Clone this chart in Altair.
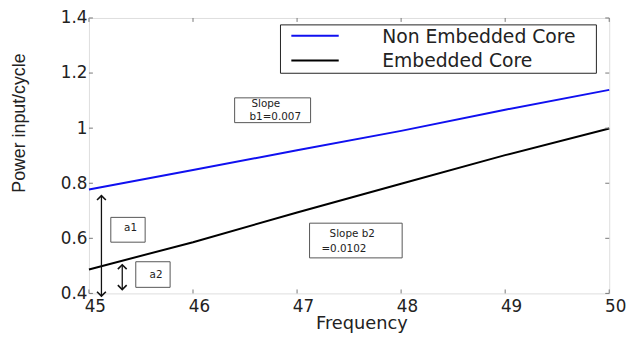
import altair as alt
import pandas as pd

# ---- data ----
freq = [45, 46, 47, 48, 49, 50]
non_embedded = [0.777, 0.848, 0.920, 0.990, 1.067, 1.139]
embedded = [0.487, 0.586, 0.694, 0.798, 0.902, 0.999]
series_names = ["Non Embedded Core", "Embedded Core"]
series_colors = ["#1010f0", "#000000"]

x_ticks = [45, 46, 47, 48, 49, 50]
y_ticks = [0.4, 0.6, 0.8, 1.0, 1.2, 1.4]

# annotation boxes (data coords) and texts
box_x1 = [46.40, 47.12, 45.21, 45.45]
box_x2 = [47.13, 48.01, 45.54, 45.78]
box_y1 = [1.110, 0.655, 0.676, 0.515]
box_y2 = [1.020, 0.529, 0.586, 0.422]

note_text = ["Slope", "b1=0.007", "Slope b2", "=0.0102", "a1", "a2"]
note_x = [46.70, 46.79, 47.53, 47.45, 45.40, 45.645]
note_y = [1.087, 1.041, 0.617, 0.560, 0.637, 0.468]

# double arrows: x, y top, y bottom
arrow_x = [45.12, 45.32]
arrow_top = [0.755, 0.504]
arrow_bot = [0.390, 0.414]

W, H = 527, 279

lines_df = pd.DataFrame({
    "freq": freq * 2,
    "power": non_embedded + embedded,
    "series": [series_names[0]] * len(freq) + [series_names[1]] * len(freq),
})

xs = alt.Scale(domain=[45, 50], nice=False, zero=False)
ys = alt.Scale(domain=[0.4, 1.4], nice=False, zero=False)

x_axis = alt.Axis(values=x_ticks, format="d", ticks=False, domain=False, grid=False,
                  labelFont="DejaVu Sans", labelFontSize=17, labelColor="#222",
                  labelPadding=5, labelOffset=6, labelFlush=False,
                  title="Frequency", titleFont="DejaVu Sans", titleFontSize=18,
                  titleFontWeight="normal", titleColor="#222",
                  titleX=276, titleY=31, titleAlign="center", titleBaseline="middle")
y_axis = alt.Axis(values=y_ticks, format="~g", ticks=False, domain=False, grid=False,
                  labelFont="DejaVu Sans", labelFontSize=17, labelColor="#222",
                  labelPadding=2, labelFlush=False,
                  title="Power input/cycle", titleFont="Liberation Sans", titleFontSize=18,
                  titleFontWeight="normal", titleColor="#222",
                  titleX=-70, titleY=106, titleAlign="center", titleBaseline="middle",
                  titleAngle=270)

lines = alt.Chart(lines_df).mark_line(strokeWidth=2).encode(
    x=alt.X("freq:Q", scale=xs, axis=x_axis),
    y=alt.Y("power:Q", scale=ys, axis=y_axis),
    color=alt.Color("series:N", scale=alt.Scale(domain=series_names, range=series_colors), legend=None),
)

xt_df = pd.DataFrame({"v": x_ticks})
yt_df = pd.DataFrame({"v": y_ticks})
tick_style = dict(color="#777", strokeWidth=1)
xt_bottom = alt.Chart(xt_df).mark_rule(**tick_style).encode(
    x=alt.X("v:Q", scale=xs), y=alt.value(H), y2=alt.value(H - 4))
xt_top = alt.Chart(xt_df).mark_rule(**tick_style).encode(
    x=alt.X("v:Q", scale=xs), y=alt.value(0), y2=alt.value(4))
yt_left = alt.Chart(yt_df).mark_rule(**tick_style).encode(
    y=alt.Y("v:Q", scale=ys), x=alt.value(0), x2=alt.value(4))
yt_right = alt.Chart(yt_df).mark_rule(**tick_style).encode(
    y=alt.Y("v:Q", scale=ys), x=alt.value(W), x2=alt.value(W - 4))

box_df = pd.DataFrame({"x1": box_x1, "x2": box_x2, "y1": box_y1, "y2": box_y2})
boxes = alt.Chart(box_df).mark_rect(fill="white", stroke="#555", strokeWidth=1).encode(
    x=alt.X("x1:Q", scale=xs), x2="x2:Q", y=alt.Y("y1:Q", scale=ys), y2="y2:Q")

note_df = pd.DataFrame({"t": note_text, "x": note_x, "y": note_y})
notes = alt.Chart(note_df).mark_text(font="DejaVu Sans", fontSize=10.5, color="#222",
                                     align="center", baseline="middle").encode(
    x=alt.X("x:Q", scale=xs), y=alt.Y("y:Q", scale=ys), text="t:N")

arr_df = pd.DataFrame({"x": arrow_x, "top": arrow_top, "bot": arrow_bot})
shafts = alt.Chart(arr_df).mark_rule(color="#111", strokeWidth=1.3).encode(
    x=alt.X("x:Q", scale=xs), y=alt.Y("top:Q", scale=ys), y2="bot:Q")
head_up = alt.Chart(arr_df).mark_point(shape="M-1,1L0,0L1,1", filled=False, color="#111",
                                       strokeWidth=1.6, size=80, opacity=1).encode(
    x=alt.X("x:Q", scale=xs), y=alt.Y("top:Q", scale=ys))
head_dn = alt.Chart(arr_df).mark_point(shape="M-1,-1L0,0L1,-1", filled=False, color="#111",
                                       strokeWidth=1.6, size=80, opacity=1).encode(
    x=alt.X("x:Q", scale=xs), y=alt.Y("bot:Q", scale=ys))

# legend drawn manually (pixel positions inside the plot area)
leg_df = pd.DataFrame({"series": series_names, "ly": [18, 43], "ty": [19, 44]})
leg_box = alt.Chart(pd.DataFrame({"a": [0]})).mark_rect(fill="white", stroke="#222", strokeWidth=1).encode(
    x=alt.value(194), x2=alt.value(514), y=alt.value(7), y2=alt.value(56))
leg_lines = alt.Chart(leg_df).mark_rule(strokeWidth=2).encode(
    x=alt.value(205), x2=alt.value(253), y=alt.Y("ly:Q", scale=None),
    color=alt.Color("series:N", scale=alt.Scale(domain=series_names, range=series_colors), legend=None))
leg_text = alt.Chart(leg_df).mark_text(font="DejaVu Sans", fontSize=19, color="#222",
                                       align="left", baseline="middle").encode(
    x=alt.value(297), y=alt.Y("ty:Q", scale=None), text="series:N")

chart = alt.layer(
    lines, xt_bottom, xt_top, yt_left, yt_right, boxes, notes, shafts, head_up, head_dn,
    leg_box, leg_lines, leg_text,
).properties(
    width=W, height=H,
    padding={"left": 82, "top": 8, "right": 18, "bottom": 38},
    autosize=alt.AutoSizeParams(type="none"),
).configure_view(
    stroke="#777", strokeWidth=1, strokeDash=[2, 1]
).configure(background="white")

chart.save("out.html", embed_options={"renderer": "svg", "actions": False})
